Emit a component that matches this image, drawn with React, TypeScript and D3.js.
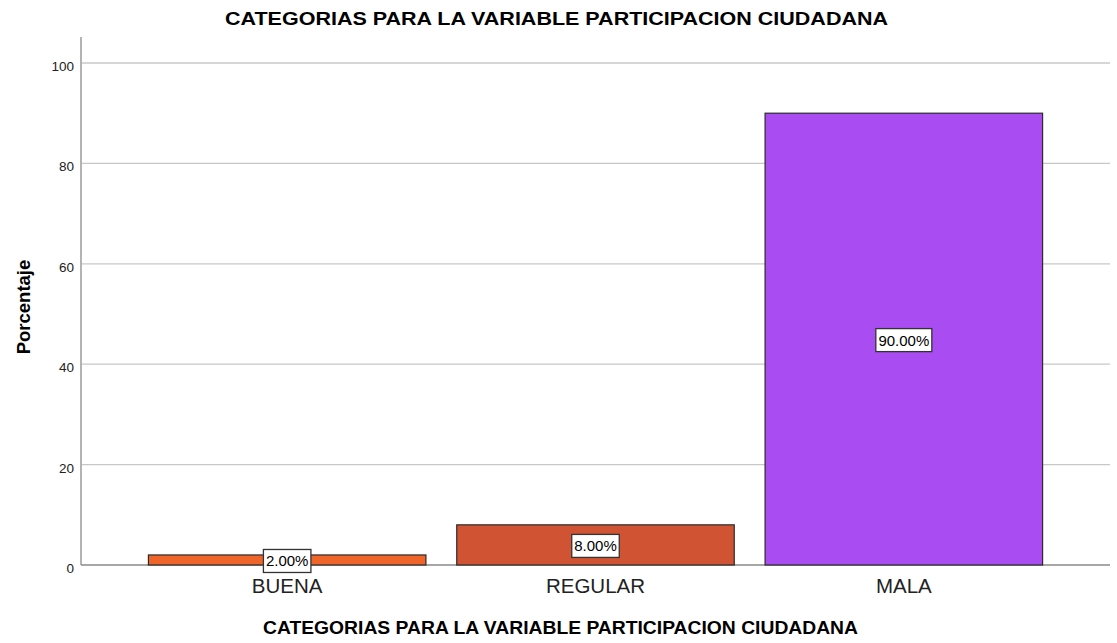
import React from "react";
import * as d3 from "d3";

const categories = ["BUENA", "REGULAR", "MALA"];
const values = [2, 8, 90];
const labels = ["2.00%", "8.00%", "90.00%"];
const colors = ["#ef6429", "#d05434", "#a94cf2"];
const yTicks = [0, 20, 40, 60, 80, 100];
const title = "CATEGORIAS PARA LA VARIABLE PARTICIPACION CIUDADANA";

const W = 1117;
const H = 643;
const font = "'Liberation Sans', Arial, sans-serif";

export default function App() {
  const x = d3.scaleBand<string>().domain(categories).range([133, 1058]).paddingInner(0.1).paddingOuter(0.05);
  const y = d3.scaleLinear().domain([0, 100]).range([565, 63]);
  const top = y(105.2);
  return (
    <svg width={W} height={H} style={{ position: "absolute", left: 0, top: 0 }} fontFamily={font}>
      <rect x={0} y={0} width={W} height={H} fill="#fff" />
      <text x={225} y={25} fontSize={18} fontWeight="bold" fill="#000" textLength={663} lengthAdjust="spacingAndGlyphs">
        {title}
      </text>
      {yTicks.map((t) => (
        <g key={t}>
          {t > 0 && <line x1={82} x2={1110} y1={y(t)} y2={y(t)} stroke="#c8c8c8" strokeWidth={1.3} />}
          <text x={74} y={y(t) + 8} textAnchor="end" fontSize={13.5} fill="#222">{t}</text>
        </g>
      ))}
      <line x1={81} x2={81} y1={top} y2={565} stroke="#8a8a8a" strokeWidth={1.3} />
      <line x1={81} x2={1110} y1={565} y2={565} stroke="#8a8a8a" strokeWidth={1.3} />
      {categories.map((c, i) => {
        const bx = x(c)!;
        const bw = x.bandwidth();
        const by = y(values[i]);
        const cy = (by + y(0)) / 2 + 1;
        const lw = labels[i].length * 8.5 + 5;
        return (
          <g key={c}>
            <rect x={bx} y={by} width={bw} height={y(0) - by} fill={colors[i]} stroke="#2b2b2b" strokeWidth={1.2} />
            <rect x={bx + bw / 2 - lw / 2} y={cy - 11.5} width={lw} height={23} fill="#fff" stroke="#333" strokeWidth={1.3} />
            <text x={bx + bw / 2} y={cy + 5.5} textAnchor="middle" fontSize={15} fill="#000">{labels[i]}</text>
            <text x={bx + bw / 2} y={593} textAnchor="middle" fontSize={20.5} fill="#222">{c}</text>
          </g>
        );
      })}
      <text x={263} y={634} fontSize={18} fontWeight="bold" fill="#000" textLength={595} lengthAdjust="spacingAndGlyphs">
        {title}
      </text>
      <text transform="translate(30,307) rotate(-90)" textAnchor="middle" fontSize={18.5} fontWeight="bold" fill="#000">
        Porcentaje
      </text>
    </svg>
  );
}
